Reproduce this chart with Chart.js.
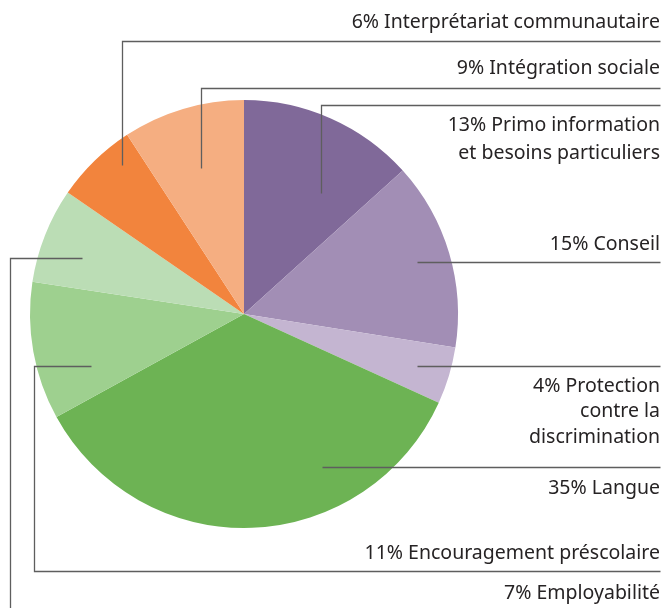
<!DOCTYPE html>
<html>
<head>
<meta charset="utf-8">
<script src="https://cdn.jsdelivr.net/npm/chart.js@4.4.1/dist/chart.umd.min.js"></script>
<style>
  html, body { margin: 0; padding: 0; background: #fff; }
  #c { display: block; }
</style>
</head>
<body>
<canvas id="c" width="666" height="608"></canvas>
<script>
// ******************************************************** DATA
var categories = [
  "Primo information et besoins particuliers",
  "Conseil",
  "Protection contre la discrimination",
  "Langue",
  "Encouragement préscolaire",
  "Employabilité",
  "Interprétariat communautaire",
  "Intégration sociale"
];
var shares = [13.3, 14.2, 4.3, 35.2, 10.4, 7.2, 6.2, 9.2];
// percentages as printed in the labels
var printedPct = [13, 15, 4, 35, 11, 7, 6, 9];
var labelLines = [
  ["Primo information", "et besoins particuliers"],
  ["Conseil"],
  ["Protection", "contre la", "discrimination"],
  ["Langue"],
  ["Encouragement préscolaire"],
  ["Employabilité"],
  ["Interprétariat communautaire"],
  ["Intégration sociale"]
];
var colors = ["#806999", "#a28eb5", "#c4b5d1", "#6db354", "#9ed08f", "#bbddb5", "#f2843d", "#f5ae81"];

// ******************************************************** CALLOUTS (layout only)
// anchor given as fraction of radius from pie centre, then a path of elbows
var callouts = [
  { fx: 0.360, fy: -0.565, path: [["a", 105], [660, 105]], textY: [125, 153] },
  { fx: 0.808, fy: -0.243, path: [[660, "a"]], textY: [244] },
  { fx: 0.808, fy: 0.243, path: [[660, "a"]], textY: [386, 411, 437] },
  { fx: 0.364, fy: 0.715, path: [[660, "a"]], textY: [488] },
  { fx: -0.715, fy: 0.243, path: [[34, "a"], [34, 571], [660, 571]], textY: [553] },
  { fx: -0.757, fy: -0.262, path: [[10, "a"], [10, 612]], textY: [593] },
  { fx: -0.570, fy: -0.696, path: [["a", 41], [660, 41]], textY: [22] },
  { fx: -0.201, fy: -0.682, path: [["a", 88], [660, 88]], textY: [68] }
];

var calloutPlugin = {
  id: "callouts",
  afterDatasetsDraw: function (chart) {
    var ctx = chart.ctx;
    var arc = chart.getDatasetMeta(0).data[0];
    var cx = arc.x, cy = arc.y, r = arc.outerRadius;
    ctx.save();
    ctx.strokeStyle = "#5e5e5e";
    ctx.lineWidth = 1.3;
    callouts.forEach(function (c, i) {
      var ax = Math.round(cx + c.fx * r) + 0.5;
      var ay = Math.round(cy + c.fy * r) + 0.5;
      ctx.beginPath();
      ctx.moveTo(ax, ay);
      c.path.forEach(function (p) {
        var x = p[0] === "a" ? ax : p[0] + 0.5;
        var y = p[1] === "a" ? ay : p[1] + 0.5;
        ctx.lineTo(x, y);
      });
      ctx.stroke();
      ctx.fillStyle = "#262324";
      ctx.font = "19.5px 'Noto Sans'";
      ctx.textAlign = "right";
      ctx.textBaseline = "middle";
      labelLines[i].forEach(function (t, k) {
        var txt = k === 0 ? printedPct[i] + "% " + t : t;
        ctx.fillText(txt, 660, c.textY[k]);
      });
    });
    ctx.restore();
  }
};

// ******************************************************** CHART
var ctxc = document.getElementById("c").getContext("2d");
new Chart(ctxc, {
  type: "pie",
  data: {
    labels: categories,
    datasets: [{
      data: shares,
      backgroundColor: colors,
      borderWidth: 0
    }]
  },
  options: {
    responsive: false,
    animation: false,
    layout: { padding: { left: 30, top: 100, right: 208, bottom: 80 } },
    plugins: {
      legend: { display: false },
      tooltip: { enabled: false }
    }
  },
  plugins: [calloutPlugin]
});
</script>
</body>
</html>
